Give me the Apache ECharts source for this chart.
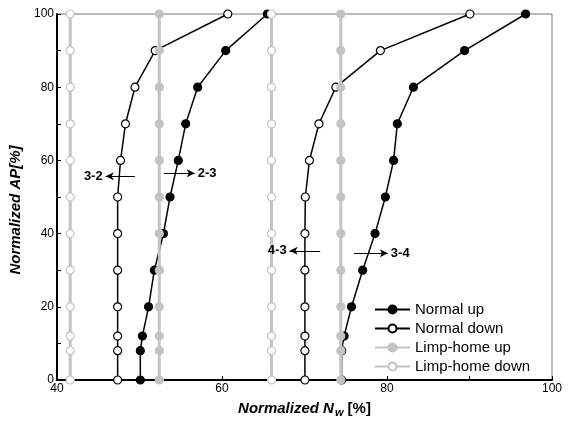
<!DOCTYPE html>
<html>
<head>
<meta charset="utf-8">
<script src="https://cdn.jsdelivr.net/npm/echarts@6/dist/echarts.min.js"></script>
<style>html,body{margin:0;padding:0;background:#fff}#c{width:568px;height:423px}</style>
</head>
<body>
<div id="c"></div>
<script>
// ---- data ----
const apLevels = [0, 8, 12, 20, 30, 40, 50, 60, 70, 80, 90, 100];
const normalUp23 = [50.1, 50.1, 50.35, 51.1, 51.8, 52.9, 53.7, 54.7, 55.6, 57.05, 60.45, 65.5];
const normalUp34 = [74.5, 74.5, 74.8, 75.7, 77.05, 78.55, 79.8, 80.8, 81.25, 83.2, 89.4, 96.8];
const normalDown32 = [47.35, 47.35, 47.35, 47.35, 47.35, 47.35, 47.35, 47.7, 48.3, 49.45, 51.9, 60.7];
const normalDown43 = [70.05, 70.05, 70.05, 70.05, 70.05, 70.05, 70.1, 70.6, 71.75, 73.8, 79.2, 90.05];
const limpUp = [52.4, 74.4];
const limpDown = [41.6, 66.0];
const xTicks = [40, 60, 80, 100];
const yTicks = [0, 20, 40, 60, 80, 100];
const shiftArrows = [
  { label: '3-2', from: [49.45, 55.7], to: [45.9, 55.7] },
  { label: '2-3', from: [52.97, 56.5], to: [56.7, 56.5] },
  { label: '4-3', from: [71.9, 35.3], to: [68.2, 35.3] },
  { label: '3-4', from: [76.0, 34.6], to: [80.1, 34.6] }
];

const pairs = (xs) => xs.map((x, i) => [x, apLevels[i]]);
const constPairs = (x) => apLevels.map(y => [x, y]);
const GREY = '#c3c3c3';

function normalSeries(name, xs, filled, extra) {
  return Object.assign({
    name, type: 'line', data: pairs(xs), symbol: 'circle', symbolSize: 8,
    lineStyle: { color: '#000', width: 1.5 },
    itemStyle: { color: filled ? '#000' : '#fff', borderColor: '#000', borderWidth: 1.2 },
    z: 2, animation: false
  }, extra || {});
}
function limpSeries(name, x, filled) {
  return {
    name, type: 'line', data: constPairs(x), symbol: 'circle', symbolSize: 8,
    lineStyle: { color: GREY, width: 3 },
    itemStyle: { color: filled ? GREY : '#fff', borderColor: GREY, borderWidth: 1.2 },
    z: 3, animation: false
  };
}

const arrowMark = {
  silent: true, symbol: ['none', 'arrow'], symbolSize: [6, 8],
  lineStyle: { color: '#000', width: 1, type: 'solid' },
  label: { show: true, position: 'end', distance: 3, color: '#000', fontFamily: 'Liberation Sans, Arial', fontWeight: 'bold', fontSize: 13, formatter: p => p.name },
  data: shiftArrows.map(a => [{ coord: a.from, name: a.label }, { coord: a.to }])
};

const series = [
  normalSeries('Normal up', normalUp23, true, { markLine: arrowMark }),
  normalSeries('Normal up', normalUp34, true),
  normalSeries('Normal down', normalDown32, false),
  normalSeries('Normal down', normalDown43, false),
  limpSeries('Limp-home up', limpUp[0], true),
  limpSeries('Limp-home up', limpUp[1], true),
  limpSeries('Limp-home down', limpDown[0], false),
  limpSeries('Limp-home down', limpDown[1], false)
];

const font = 'Liberation Sans, Arial, sans-serif';
const labelFmt = (ticks) => (v) => (ticks.indexOf(v) >= 0 ? String(v) : '');
const chart = echarts.init(document.getElementById('c'), null, { renderer: 'canvas' });
chart.setOption({
  animation: false,
  grid: { left: 57, right: 16, top: 14, bottom: 39, show: true, borderColor: '#777', borderWidth: 1, backgroundColor: 'transparent' },
  legend: {
    orient: 'vertical', left: 374, top: 302, padding: 0, itemWidth: 35, itemHeight: 10, itemGap: 4,
    data: ['Normal up', 'Normal down', 'Limp-home up', 'Limp-home down'],
    textStyle: { fontFamily: font, fontSize: 15, color: '#000' }, selectedMode: false
  },
  xAxis: {
    type: 'value', min: xTicks[0], max: xTicks[xTicks.length - 1], interval: 10,
    name: '{b|Normalized N}{s|w}{n| [%]}', nameLocation: 'middle', nameGap: 19,
    nameTextStyle: { rich: {
      b: { fontFamily: font, fontWeight: 'bold', fontStyle: 'italic', fontSize: 15, color: '#000' },
      s: { fontFamily: font, fontWeight: 'bold', fontStyle: 'italic', fontSize: 11, color: '#000', padding: [8, 0, 0, 1] },
      n: { fontFamily: font, fontWeight: 'bold', fontSize: 15, color: '#000' }
    } },
    axisLine: { show: true, onZero: false, lineStyle: { color: '#000', width: 2 } },
    axisTick: { show: true, inside: true, length: 4, lineStyle: { color: '#000' } },
    axisLabel: { margin: 3, fontFamily: font, fontSize: 12, color: '#000', formatter: labelFmt(xTicks) },
    splitLine: { show: false }
  },
  yAxis: {
    type: 'value', min: yTicks[0], max: yTicks[yTicks.length - 1], interval: 10,
    name: 'Normalized AP[%]', nameLocation: 'middle', nameGap: 31,
    nameTextStyle: { fontFamily: font, fontWeight: 'bold', fontStyle: 'italic', fontSize: 15, color: '#000', padding: [0, 26, 0, 0] },
    axisLine: { show: true, onZero: false, lineStyle: { color: '#000', width: 2 } },
    axisTick: { show: true, inside: true, length: 4, lineStyle: { color: '#000' } },
    axisLabel: { margin: 3, fontFamily: font, fontSize: 12, color: '#000', formatter: labelFmt(yTicks) },
    splitLine: { show: false }
  },
  series
});
</script>
</body>
</html>
